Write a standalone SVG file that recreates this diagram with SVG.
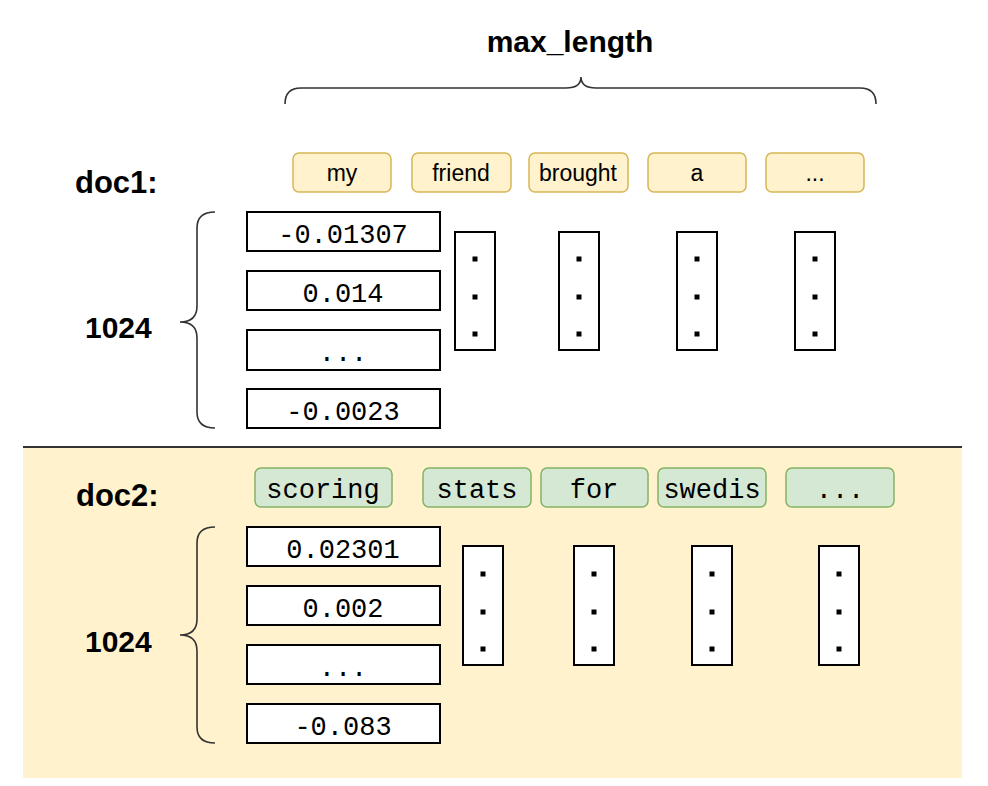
<svg xmlns="http://www.w3.org/2000/svg" width="988" height="786" viewBox="0 0 988 786">
<style>
.lbl{font-family:"Liberation Sans",Arial,sans-serif;font-weight:bold;fill:#000}
.tokY{fill:#fff2cc;stroke:#d6b656;stroke-width:1.5}
.tokG{fill:#d5e8d4;stroke:#82b366;stroke-width:1.5}
.ttxt{font-family:"Liberation Sans",Arial,sans-serif;font-size:23px;fill:#000;text-anchor:middle}
.mono{font-family:"Liberation Mono","Courier New",monospace;font-size:27px;fill:#000;text-anchor:middle}
.cell{fill:#fff;stroke:#000;stroke-width:2}
.brace{fill:none;stroke:#333;stroke-width:1.6}
.dot{fill:#000}
</style>
<defs>
<g id="dots"><rect x="-2.5" y="-2.5" width="5" height="5" class="dot"/><rect x="-2.5" y="35.5" width="5" height="5" class="dot"/><rect x="-2.5" y="72.5" width="5" height="5" class="dot"/></g>
</defs>
<rect width="988" height="786" fill="#fff"/>
<rect x="23" y="447" width="939" height="331" fill="#fff2cc"/>
<line x1="23" y1="447" x2="962" y2="447" stroke="#333" stroke-width="2"/>

<g id="connectors">
<path class="brace" d="M285,104 Q285,88 301,88 L566,88 Q581,88 581,77 Q581,88 596,88 L860,88 Q876,88 876,104"/>
<path class="brace" d="M215,212 Q197,212 197,228 L197,306 Q197,322 180,322 Q197,322 197,338 L197,412 Q197,428 215,428"/>
<path class="brace" d="M215,527 Q197,527 197,543 L197,619 Q197,635 180,635 Q197,635 197,651 L197,727 Q197,743 215,743"/>
</g>

<g id="title"><text class="lbl" x="570" y="52" font-size="30" text-anchor="middle">max_length</text></g>

<g id="doc1">
<text class="lbl" x="75" y="193" font-size="31">doc1:</text>
<text class="lbl" x="85" y="338" font-size="30">1024</text>
<g id="d1-my"><rect class="tokY" x="293" y="153" width="98" height="39" rx="6"/><text class="ttxt" x="342" y="181">my</text></g>
<g id="d1-friend"><rect class="tokY" x="412" y="153" width="99" height="39" rx="6"/><text class="ttxt" x="461" y="181">friend</text></g>
<g id="d1-brought"><rect class="tokY" x="529" y="153" width="99" height="39" rx="6"/><text class="ttxt" x="578" y="181">brought</text></g>
<g id="d1-a"><rect class="tokY" x="648" y="153" width="98" height="39" rx="6"/><text class="ttxt" x="697" y="181">a</text></g>
<g id="d1-etc"><rect class="tokY" x="766" y="153" width="98" height="39" rx="6"/><text class="ttxt" x="815" y="181">...</text></g>
<g id="d1-v1"><rect class="cell" x="247" y="212" width="193" height="39"/><text class="mono" x="343" y="243">-0.01307</text></g>
<g id="d1-v2"><rect class="cell" x="247" y="271" width="193" height="39"/><text class="mono" x="343" y="302">0.014</text></g>
<g id="d1-v3"><rect class="cell" x="247" y="330" width="193" height="40"/><text class="mono" x="343" y="361">...</text></g>
<g id="d1-v4"><rect class="cell" x="247" y="389" width="193" height="39"/><text class="mono" x="343" y="420">-0.0023</text></g>
<g id="d1-c1"><rect class="cell" x="455" y="232" width="40" height="118"/><use href="#dots" x="475" y="259"/></g>
<g id="d1-c2"><rect class="cell" x="559" y="232" width="40" height="118"/><use href="#dots" x="579" y="259"/></g>
<g id="d1-c3"><rect class="cell" x="677" y="232" width="40" height="118"/><use href="#dots" x="697" y="259"/></g>
<g id="d1-c4"><rect class="cell" x="795" y="232" width="40" height="118"/><use href="#dots" x="815" y="259"/></g>
</g>

<g id="doc2">
<text class="lbl" x="76" y="506" font-size="31">doc2:</text>
<text class="lbl" x="85" y="652" font-size="30">1024</text>
<g id="d2-scoring"><rect class="tokG" x="255" y="468" width="137" height="39" rx="6"/><text class="mono" x="323" y="498">scoring</text></g>
<g id="d2-stats"><rect class="tokG" x="423" y="468" width="108" height="39" rx="6"/><text class="mono" x="477" y="498">stats</text></g>
<g id="d2-for"><rect class="tokG" x="541" y="468" width="107" height="39" rx="6"/><text class="mono" x="594" y="498">for</text></g>
<g id="d2-swedis"><rect class="tokG" x="658" y="468" width="108" height="39" rx="6"/><text class="mono" x="712" y="498">swedis</text></g>
<g id="d2-etc"><rect class="tokG" x="786" y="468" width="108" height="39" rx="6"/><text class="mono" x="840" y="498">...</text></g>
<g id="d2-v1"><rect class="cell" x="247" y="527" width="193" height="39"/><text class="mono" x="343" y="558">0.02301</text></g>
<g id="d2-v2"><rect class="cell" x="247" y="586" width="193" height="39"/><text class="mono" x="343" y="617">0.002</text></g>
<g id="d2-v3"><rect class="cell" x="247" y="645" width="193" height="39"/><text class="mono" x="343" y="676">...</text></g>
<g id="d2-v4"><rect class="cell" x="247" y="704" width="193" height="39"/><text class="mono" x="343" y="735">-0.083</text></g>
<g id="d2-c1"><rect class="cell" x="463" y="546" width="40" height="119"/><use href="#dots" x="483" y="574"/></g>
<g id="d2-c2"><rect class="cell" x="574" y="546" width="40" height="119"/><use href="#dots" x="594" y="574"/></g>
<g id="d2-c3"><rect class="cell" x="692" y="546" width="40" height="119"/><use href="#dots" x="712" y="574"/></g>
<g id="d2-c4"><rect class="cell" x="819" y="546" width="40" height="119"/><use href="#dots" x="839" y="574"/></g>
</g>
</svg>
